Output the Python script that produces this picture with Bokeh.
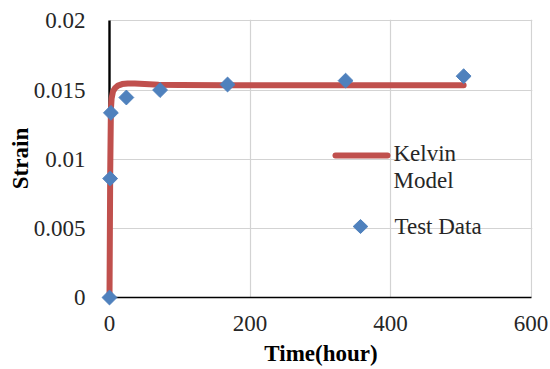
import math

from bokeh.embed import file_html
from bokeh.models import Arrow, CustomJSTickFormatter, FixedTicker, Label, PolyAnnotation
from bokeh.plotting import figure
from bokeh.resources import INLINE

# Creep test: strain against time, with the fitted Kelvin model curve
model_name = ["Kelvin", "Model"]
model_time = [0, 1, 2, 3, 5, 8, 12, 18, 26, 36, 50, 70, 100, 168, 336, 504]
model_strain = [0, 0.0090, 0.0136, 0.0144, 0.0149, 0.01515, 0.01532, 0.01543,
                0.01548, 0.01548, 0.01544, 0.01539, 0.01536, 0.01535, 0.01535, 0.01535]

test_name = "Test Data"
test_time = [0, 1, 2, 24, 72, 168, 336, 504]
test_strain = [0, 0.0086, 0.01335, 0.01446, 0.0150, 0.0154, 0.01568, 0.0160]

x_ticks = [0, 200, 400, 600]
x_tick_labels = ["0", "200", "400", "600"]
y_ticks = [0, 0.005, 0.01, 0.015, 0.02]
y_tick_labels = ["0", "0.005", "0.01", "0.015", "0.02"]

FONT = "Liberation Serif"
SIZE = "23px"
TEXT = "#262626"
RED = "#C0504D"
BLUE = "#4F81BD"

LABEL_JS = """
let best = 0;
for (let i = 1; i < vals.length; i++) {
  if (Math.abs(vals[i] - tick) < Math.abs(vals[best] - tick)) best = i;
}
return labels[best];
"""

p = figure(
    width=550, height=369,
    x_range=(0, 602), y_range=(0, 0.0201),
    output_backend="svg", toolbar_location=None,
    min_border_left=109, min_border_right=18,
    min_border_top=19, min_border_bottom=72,
    background_fill_color="white", border_fill_color="white",
)
p.outline_line_color = None

# grid
for g in (p.xgrid, p.ygrid):
    g.grid_line_color = "#d3d3d3"
    g.grid_line_width = 1.2
p.xgrid.ticker = FixedTicker(ticks=x_ticks)
p.ygrid.ticker = FixedTicker(ticks=y_ticks)

# axes
for ax in (p.xaxis[0], p.yaxis[0]):
    ax.axis_line_color = "black"
    ax.major_tick_line_color = None
    ax.minor_tick_line_color = None
    ax.major_tick_out = 0
    ax.major_tick_in = 0
    ax.major_label_text_font = FONT
    ax.major_label_text_font_size = SIZE
    ax.major_label_text_color = TEXT
    ax.axis_label_text_font = FONT
    ax.axis_label_text_font_size = SIZE
    ax.axis_label_text_font_style = "bold"
    ax.axis_label_text_color = "black"

xa, ya = p.xaxis[0], p.yaxis[0]
xa.ticker = FixedTicker(ticks=x_ticks)
xa.formatter = CustomJSTickFormatter(args=dict(vals=x_ticks, labels=x_tick_labels), code=LABEL_JS)
xa.bounds = (0, 600)
xa.axis_line_width = 1.6
xa.major_label_standoff = 18
xa.axis_label = "Time(hour)"
xa.axis_label_standoff = 7

ya.ticker = FixedTicker(ticks=y_ticks)
ya.formatter = CustomJSTickFormatter(args=dict(vals=y_ticks, labels=y_tick_labels), code=LABEL_JS)
ya.bounds = (0, 0.02)
ya.axis_line_width = 2.4
ya.major_label_standoff = 24
ya.axis_label = "Strain"
ya.axis_label_standoff = -2

model = p.line(model_time, model_strain, line_color=RED, line_width=6,
               line_join="round", line_cap="round", level="overlay")
test = p.scatter(test_time, test_strain, marker="square", angle=math.pi / 4,
                 size=10.5, fill_color=BLUE, line_color=BLUE, level="overlay")

# key, on the right-hand side of the plotting area
p.add_layout(Arrow(
    start=None, end=None, x_start=226, y_start=142, x_end=278, y_end=142,
    start_units="screen", end_units="screen",
    line_color=RED, line_width=6, line_cap="round",
))
for i, word in enumerate(model_name):
    p.add_layout(Label(
        x=284, y=144 - 27 * i, x_units="screen", y_units="screen", text=word,
        text_baseline="middle", text_font=FONT, text_font_size=SIZE, text_color=TEXT,
    ))
p.add_layout(PolyAnnotation(
    xs=[243.7, 251, 258.3, 251], ys=[71, 78, 71, 64],
    xs_units="screen", ys_units="screen",
    fill_color=BLUE, fill_alpha=1, line_color=BLUE, line_alpha=1,
))
p.add_layout(Label(
    x=285, y=71.5, x_units="screen", y_units="screen", text=test_name,
    text_baseline="middle", text_font=FONT, text_font_size=SIZE, text_color=TEXT,
))

open("out.html", "w").write(file_html(p, INLINE))
